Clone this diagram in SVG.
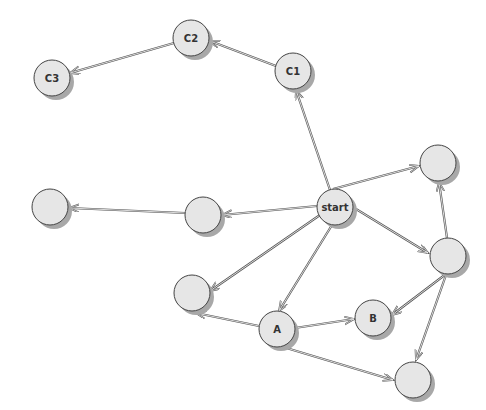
<svg xmlns="http://www.w3.org/2000/svg" width="486" height="410" viewBox="0 0 486 410">
<style>
.sh{fill:#a8a8a8}
.nd{fill:#e6e6e6;stroke:#444;stroke-width:1}
.lb{font-family:"DejaVu Sans",sans-serif;font-weight:bold;font-size:10px;fill:#333;text-anchor:middle}
.e1{stroke:#555;stroke-width:2.2;fill:none}
.e2{stroke:#fff;stroke-width:0.8;fill:none}
</style>
<defs>
<marker id="ah" markerWidth="12" markerHeight="10" refX="10" refY="4" orient="auto" markerUnits="userSpaceOnUse">
<path d="M0,0 L10,4 L0,8" fill="none" stroke="#555" stroke-width="1.8"/>
<path d="M0,0 L10,4 L0,8" fill="none" stroke="#fff" stroke-width="0.6"/>
</marker>
</defs>
<rect width="486" height="410" fill="#fff"/>
<g id="connectors">
<g class="e1" marker-end="url(#ah)">
<line x1="276" y1="66" x2="210" y2="41"/>
<line x1="174" y1="43" x2="70" y2="73"/>
<line x1="330" y1="190" x2="296" y2="90"/>
<line x1="333" y1="189" x2="419" y2="166"/>
<line x1="356" y1="209" x2="428" y2="253"/>
<line x1="447" y1="238" x2="439" y2="182"/>
<line x1="317" y1="206" x2="222" y2="215"/>
<line x1="185" y1="213" x2="69" y2="208"/>
<line x1="320" y1="215" x2="210" y2="291"/>
<line x1="332" y1="225" x2="279" y2="311"/>
<line x1="259" y1="326" x2="196" y2="313"/>
<line x1="295" y1="328" x2="354" y2="319"/>
<line x1="283" y1="347" x2="393" y2="380"/>
<line x1="446" y1="274" x2="392" y2="315"/>
<line x1="446" y1="275" x2="416" y2="360"/>
</g>
<g class="e2">
<line x1="276" y1="66" x2="210" y2="41"/>
<line x1="174" y1="43" x2="70" y2="73"/>
<line x1="330" y1="190" x2="296" y2="90"/>
<line x1="333" y1="189" x2="419" y2="166"/>
<line x1="356" y1="209" x2="428" y2="253"/>
<line x1="447" y1="238" x2="439" y2="182"/>
<line x1="317" y1="206" x2="222" y2="215"/>
<line x1="185" y1="213" x2="69" y2="208"/>
<line x1="320" y1="215" x2="210" y2="291"/>
<line x1="332" y1="225" x2="279" y2="311"/>
<line x1="259" y1="326" x2="196" y2="313"/>
<line x1="295" y1="328" x2="354" y2="319"/>
<line x1="283" y1="347" x2="393" y2="380"/>
<line x1="446" y1="274" x2="392" y2="315"/>
<line x1="446" y1="275" x2="416" y2="360"/>
</g>
</g>
<g id="C2"><circle class="sh" cx="195" cy="42" r="18"/><circle class="nd" cx="191" cy="38" r="18"/><text class="lb" x="191" y="42">C2</text></g>
<g id="C1"><circle class="sh" cx="297" cy="75" r="18"/><circle class="nd" cx="293" cy="71" r="18"/><text class="lb" x="293" y="75">C1</text></g>
<g id="C3"><circle class="sh" cx="56" cy="82" r="18"/><circle class="nd" cx="52" cy="78" r="18"/><text class="lb" x="52" y="82">C3</text></g>
<g id="start"><circle class="sh" cx="339" cy="211" r="18"/><circle class="nd" cx="335" cy="207" r="18"/><text class="lb" x="335" y="211">start</text></g>
<g id="n_tr"><circle class="sh" cx="442" cy="167" r="18"/><circle class="nd" cx="438" cy="163" r="18"/></g>
<g id="n_r"><circle class="sh" cx="452" cy="260" r="18"/><circle class="nd" cx="448" cy="256" r="18"/></g>
<g id="n_lf"><circle class="sh" cx="54" cy="211" r="18"/><circle class="nd" cx="50" cy="207" r="18"/></g>
<g id="n_ml"><circle class="sh" cx="207" cy="219" r="18"/><circle class="nd" cx="203" cy="215" r="18"/></g>
<g id="n_ll"><circle class="sh" cx="196" cy="297" r="18"/><circle class="nd" cx="192" cy="293" r="18"/></g>
<g id="A"><circle class="sh" cx="281" cy="333" r="18"/><circle class="nd" cx="277" cy="329" r="18"/><text class="lb" x="277" y="333">A</text></g>
<g id="B"><circle class="sh" cx="377" cy="322" r="18"/><circle class="nd" cx="373" cy="318" r="18"/><text class="lb" x="373" y="322">B</text></g>
<g id="n_br"><circle class="sh" cx="417" cy="384" r="18"/><circle class="nd" cx="413" cy="380" r="18"/></g>
</svg>
